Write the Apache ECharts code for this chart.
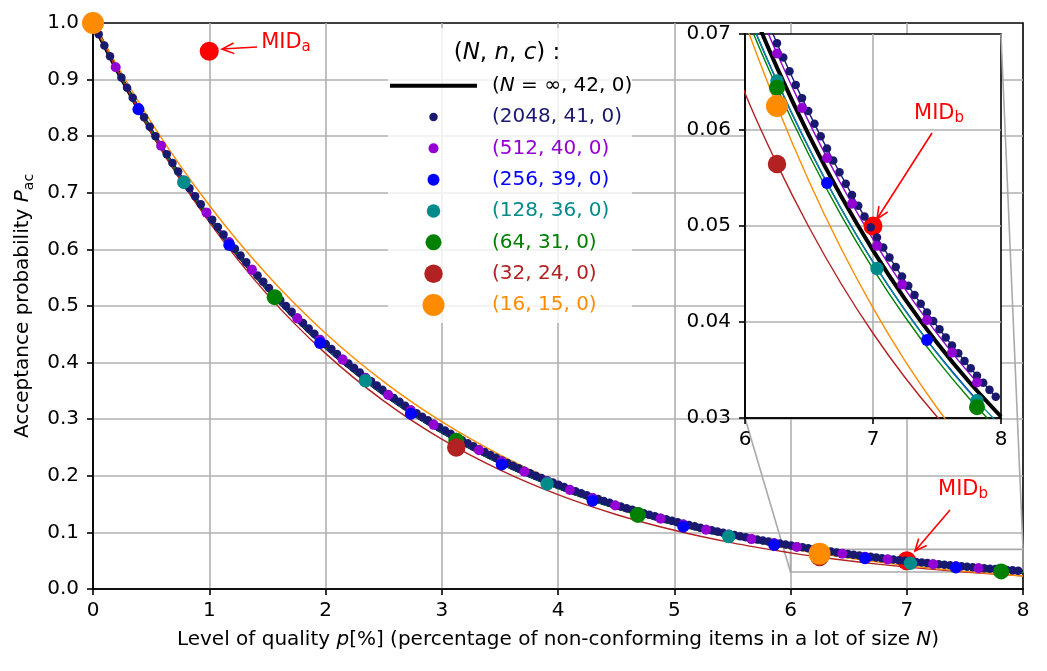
<!DOCTYPE html>
<html>
<head>
<meta charset="utf-8">
<title>Acceptance probability</title>
<script src="https://cdn.jsdelivr.net/npm/echarts@6/dist/echarts.min.js"></script>
<style>
html,body{margin:0;padding:0;background:#fff;}
#chart{width:1047px;height:671px;}
</style>
</head>
<body>
<div id="chart"></div>
<script>
// ================= DATA =================
const planLabels = ['(N = ∞, 42, 0)', '(2048, 41, 0)', '(512, 40, 0)', '(256, 39, 0)',
                    '(128, 36, 0)', '(64, 31, 0)', '(32, 24, 0)', '(16, 15, 0)'];

// N = infinity (binomial limit), n = 42
const infX = [0,0.25,0.5,0.75,1,1.25,1.5,1.75,2,2.25,2.5,2.75,3,3.25,3.5,3.75,4,4.25,4.5,4.75,5,5.25,5.5,5.75,6,6.25,6.5,6.75,7,7.25,7.5,7.75,8];
const infY = [1,0.90021,0.81016,0.72892,0.65566,0.5896,0.53006,0.4764,0.42805,0.38451,0.3453,0.31,0.27824,0.24966,0.22395,0.20083,0.18005,0.16137,0.14459,0.12952,0.11598,0.10383,0.09293,0.08314,0.07437,0.0665,0.05944,0.05312,0.04746,0.04238,0.03784,0.03377,0.03014];

// N = 2048, n = 41
const x2048 = [0,0.0488,0.0977,0.1465,0.1953,0.2441,0.293,0.3418,0.3906,0.4395,
0.4883,0.5371,0.5859,0.6348,0.6836,0.7324,0.7813,0.8301,0.8789,0.9277,
0.9766,1.0254,1.0742,1.123,1.1719,1.2207,1.2695,1.3184,1.3672,1.416,
1.4648,1.5137,1.5625,1.6113,1.6602,1.709,1.7578,1.8066,1.8555,1.9043,
1.9531,2.002,2.0508,2.0996,2.1484,2.1973,2.2461,2.2949,2.3438,2.3926,
2.4414,2.4902,2.5391,2.5879,2.6367,2.6855,2.7344,2.7832,2.832,2.8809,
2.9297,2.9785,3.0273,3.0762,3.125,3.1738,3.2227,3.2715,3.3203,3.3691,
3.418,3.4668,3.5156,3.5645,3.6133,3.6621,3.7109,3.7598,3.8086,3.8574,
3.9063,3.9551,4.0039,4.0527,4.1016,4.1504,4.1992,4.248,4.2969,4.3457,
4.3945,4.4434,4.4922,4.541,4.5898,4.6387,4.6875,4.7363,4.7852,4.834,
4.8828,4.9316,4.9805,5.0293,5.0781,5.127,5.1758,5.2246,5.2734,5.3223,
5.3711,5.4199,5.4688,5.5176,5.5664,5.6152,5.6641,5.7129,5.7617,5.8105,
5.8594,5.9082,5.957,6.0059,6.0547,6.1035,6.1523,6.2012,6.25,6.2988,
6.3477,6.3965,6.4453,6.4941,6.543,6.5918,6.6406,6.6895,6.7383,6.7871,
6.8359,6.8848,6.9336,6.9824,7.0313,7.0801,7.1289,7.1777,7.2266,7.2754,
7.3242,7.373,7.4219,7.4707,7.5195,7.5684,7.6172,7.666,7.7148,7.7637,
7.8125,7.8613,7.9102,7.959];
const y2048 = [1,0.97998,0.96035,0.94111,0.92224,0.90374,0.8856,0.86782,0.85039,0.8333,
0.81654,0.80012,0.78401,0.76822,0.75275,0.73757,0.7227,0.70812,0.69382,0.67981,
0.66607,0.6526,0.6394,0.62646,0.61378,0.60135,0.58916,0.57721,0.5655,0.55403,
0.54278,0.53175,0.52094,0.51034,0.49996,0.48978,0.47981,0.47003,0.46045,0.45105,
0.44185,0.43283,0.42398,0.41532,0.40683,0.3985,0.39035,0.38235,0.37452,0.36684,
0.35932,0.35194,0.34472,0.33764,0.3307,0.3239,0.31723,0.3107,0.30431,0.29804,
0.29189,0.28587,0.27997,0.27419,0.26853,0.26298,0.25754,0.25222,0.247,0.24188,
0.23687,0.23196,0.22715,0.22244,0.21782,0.2133,0.20886,0.20452,0.20027,0.1961,
0.19202,0.18802,0.1841,0.18026,0.1765,0.17281,0.1692,0.16567,0.1622,0.15881,
0.15549,0.15223,0.14904,0.14592,0.14286,0.13986,0.13692,0.13405,0.13123,0.12847,
0.12577,0.12312,0.12053,0.11799,0.1155,0.11307,0.11068,0.10834,0.10606,0.10381,
0.10162,0.09947,0.09736,0.0953,0.09328,0.0913,0.08937,0.08747,0.08561,0.0838,
0.08201,0.08027,0.07856,0.07689,0.07525,0.07365,0.07208,0.07054,0.06903,0.06756,
0.06612,0.0647,0.06332,0.06197,0.06064,0.05934,0.05807,0.05682,0.0556,0.05441,
0.05324,0.0521,0.05098,0.04988,0.04881,0.04776,0.04673,0.04572,0.04473,0.04377,
0.04282,0.0419,0.04099,0.04011,0.03924,0.03839,0.03756,0.03674,0.03595,0.03517,
0.0344,0.03366,0.03293,0.03221];

// N = 512, n = 40
const x512 = [0,0.1953,0.3906,0.5859,0.7813,0.9766,1.1719,1.3672,1.5625,1.7578,1.9531,2.1484,2.3438,2.5391,2.7344,2.9297,3.125,3.3203,3.5156,3.7109,3.9063,4.1016,4.2969,4.4922,4.6875,4.8828,5.0781,5.2734,5.4688,5.6641,5.8594,6.0547,6.25,6.4453,6.6406,6.8359,7.0313,7.2266,7.4219,7.6172,7.8125];
const y512 = [1,0.92188,0.84971,0.78307,0.72153,0.66472,0.61227,0.56387,0.51921,0.478,0.43999,0.40493,0.3726,0.34279,0.31532,0.28999,0.26665,0.24515,0.22534,0.20709,0.19029,0.17482,0.16058,0.14747,0.1354,0.12431,0.1141,0.10471,0.09607,0.08813,0.08083,0.07412,0.06796,0.0623,0.05709,0.05232,0.04793,0.0439,0.0402,0.03681,0.0337];

// N = 256, n = 39
const x256 = [0,0.3906,0.7813,1.1719,1.5625,1.9531,2.3438,2.7344,3.125,3.5156,3.9063,4.2969,4.6875,5.0781,5.4688,5.8594,6.25,6.6406,7.0313,7.4219,7.8125];
const y256 = [1,0.84766,0.71802,0.60777,0.51408,0.43452,0.36701,0.30975,0.26124,0.22016,0.1854,0.156,0.13117,0.1102,0.09252,0.07761,0.06505,0.05448,0.04559,0.03812,0.03185];

// N = 128, n = 36
const x128 = [0,0.7813,1.5625,2.3438,3.125,3.9063,4.6875,5.4688,6.25,7.0313,7.8125];
const y128 = [1,0.71875,0.51501,0.36786,0.26192,0.18588,0.13148,0.09268,0.06511,0.04557,0.03179];

// N = 64, n = 31
const x64 = [0,1.5625,3.125,4.6875,6.25,7.8125];
const y64 = [1,0.51563,0.2619,0.13095,0.0644,0.03113];

// N = 32, n = 24
const x32 = [0,3.125,6.25];
const y32 = [1,0.25,0.05645];

// N = 16, n = 15
const x16 = [0,6.25];
const y16 = [1,0.0625];

// continuous OC curves of the small lots
const curveX   = [0,0.5,1,1.5,2,2.5,3,3.5,4,4.5,5,5.5,6,6.25,6.5,6.75,7,7.25,7.5,7.75,8];
const curve128 = [1,0.80977,0.65491,0.52899,0.42673,0.34379,0.27661,0.22226,0.17835,0.14291,0.11436,0.09139,0.07292,0.06511,0.05811,0.05184,0.04623,0.04122,0.03673,0.03272,0.02914];
const curve64  = [1,0.81029,0.65559,0.52962,0.4272,0.34405,0.27665,0.22209,0.17801,0.14243,0.11378,0.09073,0.07223,0.0644,0.0574,0.05113,0.04553,0.04052,0.03605,0.03206,0.02849];
const curve32  = [1,0.80604,0.64823,0.5201,0.4163,0.3324,0.26472,0.21031,0.16663,0.13167,0.10374,0.08151,0.06385,0.05645,0.04987,0.04401,0.03883,0.03422,0.03013,0.02654,0.0233];
const curve16  = [1,0.82501,0.67795,0.55477,0.45195,0.36644,0.29559,0.23714,0.18913,0.14986,0.11792,0.09208,0.07128,0.0625,0.05466,0.04768,0.04147,0.03595,0.03107,0.02675,0.02295];

// marked points MID_a, MID_b
const midX = [1, 7];
const midY = [0.95, 0.05];

// axis ranges
const mainXRange = [0, 8, 1];
const mainYRange = [0, 1, 0.1];
const insetXRange = [6, 8, 1];
const insetYRange = [0.03, 0.07, 0.01];

// ================= STYLE / LAYOUT =================
const FONT = 'DejaVu Sans';
const GRID_COLOR = '#b0b0b0';
const MID_COLOR = '#ff0000';
const MAIN = {left: 93, top: 23, width: 930, height: 566};
const INSET = {left: 745, top: 34, width: 256, height: 384};

const dense = [
  {label: planLabels[1], x: x2048, y: y2048, color: '#191970', size: 8.5, smooth: false},
  {label: planLabels[2], x: x512,  y: y512,  color: '#9400d3', size: 10,  smooth: 0.33},
  {label: planLabels[3], x: x256,  y: y256,  color: '#0000ff', size: 12,  smooth: 0.33}
];
const sparse = [
  {label: planLabels[4], x: x128, y: y128, curve: curve128, color: '#008b8b', size: 13.5},
  {label: planLabels[5], x: x64,  y: y64,  curve: curve64,  color: '#008000', size: 16},
  {label: planLabels[6], x: x32,  y: y32,  curve: curve32,  color: '#b22222', size: 18.5},
  {label: planLabels[7], x: x16,  y: y16,  curve: curve16,  color: '#ff8c00', size: 22}
];

function pairs(xs, ys) { return xs.map((x, i) => [x, ys[i]]); }

function seriesFor(gi) {
  const common = {xAxisIndex: gi, yAxisIndex: gi, z: gi ? 3 : 2, silent: true, animation: false};
  const S = [];
  S.push(Object.assign({type: 'scatter', name: 'MID', data: pairs(midX, midY), symbol: 'circle',
    symbolSize: 19, itemStyle: {color: MID_COLOR, opacity: 1}}, common));
  S.push(Object.assign({type: 'line', name: planLabels[0], data: pairs(infX, infY), symbol: 'none',
    showSymbol: false, smooth: 0.33, lineStyle: {color: '#000', width: 4}, itemStyle: {color: '#000'}}, common));
  dense.forEach(d => S.push(Object.assign({type: 'line', name: d.label, data: pairs(d.x, d.y),
    symbol: 'circle', symbolSize: d.size, showSymbol: true, smooth: d.smooth,
    lineStyle: {color: d.color, width: 1.4}, itemStyle: {color: d.color, borderWidth: 0}}, common)));
  sparse.forEach(d => {
    S.push(Object.assign({type: 'line', name: d.label, data: pairs(curveX, d.curve), symbol: 'none',
      showSymbol: false, smooth: 0.33, lineStyle: {color: d.color, width: 1.4}, itemStyle: {color: d.color}}, common));
    S.push(Object.assign({type: 'scatter', name: d.label, data: pairs(d.x, d.y), symbol: 'circle',
      symbolSize: d.size, itemStyle: {color: d.color, opacity: 1, borderWidth: 0}}, common));
  });
  return S;
}

function axis(gi, range, digits, isX, extra) {
  return Object.assign({
    type: 'value', gridIndex: gi, min: range[0], max: range[1], interval: range[2], z: gi ? 2 : 0,
    axisLine: {show: true, onZero: false, lineStyle: {color: '#000', width: 1.6}},
    axisTick: {show: true, length: 6, lineStyle: {color: '#000', width: 1.6}},
    axisLabel: {show: true, fontSize: 20, fontFamily: FONT, color: '#000', margin: isX ? 12 : 14,
      formatter: v => Number(v).toFixed(digits)},
    splitLine: {show: true, showMinLine: false, showMaxLine: false, lineStyle: {color: GRID_COLOR, width: 1.6}}
  }, extra || {});
}

function legendIcon(d) {
  const r = d / 2, cx = 43.5, cy = 12;
  return 'path://M0 0M97 24M' + (cx - r) + ' ' + cy + 'A' + r + ' ' + r + ' 0 1 0 ' + (cx + r) + ' ' + cy +
         'A' + r + ' ' + r + ' 0 1 0 ' + (cx - r) + ' ' + cy + 'Z';
}
const legendData = [{name: planLabels[0], icon: 'path://M0 0M97 24M0 10L87 10L87 14L0 14Z',
  itemStyle: {color: '#000', borderWidth: 0}, textStyle: {color: '#000'}}]
  .concat(dense.concat(sparse).map(d => ({name: d.label, icon: legendIcon(d.size),
    itemStyle: {color: d.color, borderWidth: 0}, textStyle: {color: d.color}})));

const italic = {fontStyle: 'italic', fontSize: 20, fontFamily: FONT};

const option = {
  animation: false,
  backgroundColor: '#ffffff',
  textStyle: {fontFamily: FONT},
  grid: [
    Object.assign({show: true, borderColor: '#000', borderWidth: 1.6, backgroundColor: 'transparent',
      containLabel: false, outerBoundsMode: 'none'}, MAIN),
    Object.assign({show: true, borderColor: '#000', borderWidth: 1.6, backgroundColor: '#ffffff',
      containLabel: false, outerBoundsMode: 'none', z: 1}, INSET)
  ],
  xAxis: [
    axis(0, mainXRange, 0, true, {
      name: 'Level of quality {i|p}[%] (percentage of non-conforming items in a lot of size {i|N})',
      nameLocation: 'middle', nameGap: 41,
      nameTextStyle: {fontSize: 20, fontFamily: FONT, color: '#000', rich: {i: italic}}
    }),
    axis(1, insetXRange, 0, true)
  ],
  yAxis: [
    axis(0, mainYRange, 1, false, {
      name: 'Acceptance probability {i|P}{s|ac}',
      nameLocation: 'middle', nameGap: 55,
      nameTextStyle: {fontSize: 20, fontFamily: FONT, color: '#000', lineHeight: 26,
        rich: {i: {fontStyle: 'italic', fontSize: 20, fontFamily: FONT, lineHeight: 26},
               s: {fontSize: 14, fontFamily: FONT, lineHeight: 18, verticalAlign: 'bottom'}}}
    }),
    axis(1, insetYRange, 2, false)
  ],
  legend: {
    show: true, orient: 'vertical', left: 390, top: 73.7, padding: 0, itemGap: 7.33,
    itemWidth: 97, itemHeight: 24, selectedMode: false, z: 4,
    textStyle: {fontSize: 20, fontFamily: FONT, color: '#000', rich: {i: italic}},
    formatter: n => n.replace('N =', '{i|N} ='),
    itemStyle: {borderWidth: 0},
    data: legendData
  },
  series: seriesFor(0).concat(seriesFor(1))
};

const chart = echarts.init(document.getElementById('chart'), null, {renderer: 'canvas'});
chart.setOption(option);

// ---- annotations placed through the chart's own coordinate conversion ----
const toMain = p => chart.convertToPixel({gridIndex: 0}, p);
const toInset = p => chart.convertToPixel({gridIndex: 1}, p);
const ANNOT = {
  zoomBox: [[6, 0.03], [8, 0.07]],
  midA: {text: [1.66, 0.9647], from: [1.411, 0.9576], tip: [1.110, 0.954]},
  midBMain: {text: [7.484, 0.1749], from: [7.372, 0.1396], tip: [7.071, 0.0671]},
  midBInset: {text: [7.516, 0.06167], from: [7.461, 0.05969], tip: [7.031, 0.05073]}
};
const G = [];
G.push({type: 'rect', shape: {x: 388, y: 28, width: 244, height: 295}, style: {fill: 'rgba(255,255,255,0.8)'}, z: 1, silent: true});
G.push({type: 'text', x: 507, y: 53, z: 5, silent: true, style: {
  text: '({i|N}, {i|n}, {i|c}) :', fill: '#000', fontSize: 23, fontFamily: FONT,
  align: 'center', verticalAlign: 'middle', textAlign: 'center', textVerticalAlign: 'middle',
  rich: {i: {fontStyle: 'italic', fontSize: 23, fontFamily: FONT, fill: '#000'}}}});

const zb0 = toMain(ANNOT.zoomBox[0]), zb1 = toMain(ANNOT.zoomBox[1]);
G.push({type: 'rect', shape: {x: zb0[0], y: zb1[1], width: zb1[0] - zb0[0], height: zb0[1] - zb1[1]},
  style: {fill: 'none', stroke: '#aaaaaa', lineWidth: 1.6}, z: 1, silent: true});
[0, 1].forEach(k => {
  const a = toMain(ANNOT.zoomBox[k]), b = toInset(ANNOT.zoomBox[k]);
  G.push({type: 'line', shape: {x1: a[0], y1: a[1], x2: b[0], y2: b[1]},
    style: {stroke: '#aaaaaa', lineWidth: 1.6}, z: 1, silent: true});
});

function arrow(from, tip) {
  const dx = from[0] - tip[0], dy = from[1] - tip[1], L = Math.hypot(dx, dy);
  const ux = dx / L, uy = dy / L, ang = 24 * Math.PI / 180, hl = 13;
  const leg = s => [tip[0] + hl * (ux * Math.cos(s * ang) - uy * Math.sin(s * ang)),
                    tip[1] + hl * (ux * Math.sin(s * ang) + uy * Math.cos(s * ang))];
  return [
    {type: 'line', shape: {x1: from[0], y1: from[1], x2: tip[0], y2: tip[1]}, style: {stroke: MID_COLOR, lineWidth: 1.6}, z: 6, silent: true},
    {type: 'polyline', shape: {points: [leg(1), tip, leg(-1)]}, style: {stroke: MID_COLOR, lineWidth: 1.6, fill: 'none'}, z: 6, silent: true}
  ];
}
function midText(pos, sub) {
  return {type: 'text', x: pos[0], y: pos[1], z: 6, silent: true, style: {
    text: 'MID{s|' + sub + '}', fill: MID_COLOR, fontSize: 21, fontFamily: FONT, lineHeight: 24,
    align: 'center', verticalAlign: 'middle', textAlign: 'center', textVerticalAlign: 'middle',
    rich: {s: {fontSize: 15, fontFamily: FONT, fill: MID_COLOR, lineHeight: 18, verticalAlign: 'bottom'}}}};
}
[[ANNOT.midA, toMain, 'a'], [ANNOT.midBMain, toMain, 'b'], [ANNOT.midBInset, toInset, 'b']].forEach(([a, conv, sub]) => {
  arrow(conv(a.from), conv(a.tip)).forEach(e => G.push(e));
  G.push(midText(conv(a.text), sub));
});

chart.setOption({graphic: {elements: G}});
</script>
</body>
</html>
